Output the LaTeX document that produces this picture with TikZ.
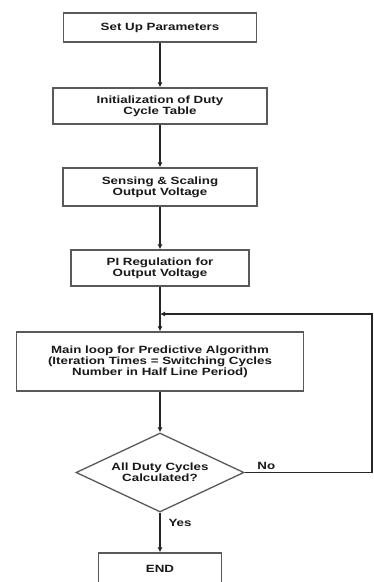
\documentclass[tikz,border=0pt]{standalone}
\usepackage{fontspec}
\setmainfont{Liberation Sans}[FakeStretch=1.27]
\usetikzlibrary{shapes.geometric,arrows.meta}

\begin{document}
\begin{tikzpicture}[x=1pt,y=-1pt]

      \tikzset{process/.style={draw=black!65, line width=1.3pt, fill=white, rectangle, inner sep=0pt, align=center, text=black!90, font=\bfseries\fontsize{10.5}{11}\selectfont},
               decision/.style={draw=black!65, line width=1.3pt, fill=white, diamond, aspect=2.13, inner sep=0pt, align=center, text=black!90, font=\bfseries\fontsize{10.5}{11}\selectfont},
               flow/.style={draw=black!85, line width=1.1pt, -{Latex[length=5pt,width=5pt]}},
               tag/.style={inner sep=2pt, text=black!90, font=\bfseries\fontsize{10.5}{11}\selectfont}}
      \useasboundingbox (0,0) rectangle (373,582);
%% Blocks
      	\node[process, minimum width=193pt, minimum height=29pt] (setup) at (160,27.5) {Set Up Parameters};
      	\node[process, minimum width=214pt, minimum height=36pt] (init) at (160,106) {Initialization of Duty\\Cycle Table};
    	\node[process, minimum width=194pt, minimum height=38pt] (sense) at (160,187) {Sensing \& Scaling\\Output Voltage};
  	    \node[process, minimum width=178pt, minimum height=36pt] (pireg) at (160,268) {PI Regulation for\\Output Voltage};
     	\node[process, minimum width=287pt, minimum height=59pt] (mainloop) at (160,361.5) {Main loop for Predictive Algorithm\\(Iteration Times = Switching Cycles\\Number in Half Line Period)};
     	\node[decision, minimum width=168pt, minimum height=79pt] (check) at (160,472.5) {All Duty Cycles\\Calculated?};
     	\node[process, minimum width=123pt, minimum height=32pt] (finish) at (160,569) {END};
%% Loop corners
		\coordinate (join) at (160,314);
		\coordinate (rbot) at (372,472.5);
		\coordinate (rtop) at (372,314);
%Edges
		\path[flow] (setup) edge (init);
		\path[flow] (init) edge (sense);
		\path[flow] (sense) edge (pireg);
		\path[flow] (pireg) edge (mainloop);
		\path[flow] (mainloop) edge (check);
		\path[flow] (check) edge node[tag, near start, right=6pt] {Yes} (finish);
		\draw[flow] (check.east) -- node[tag, pos=0.17, above] {No} (rbot) -- (rtop) -- (join);

	\end{tikzpicture}
\end{document}
